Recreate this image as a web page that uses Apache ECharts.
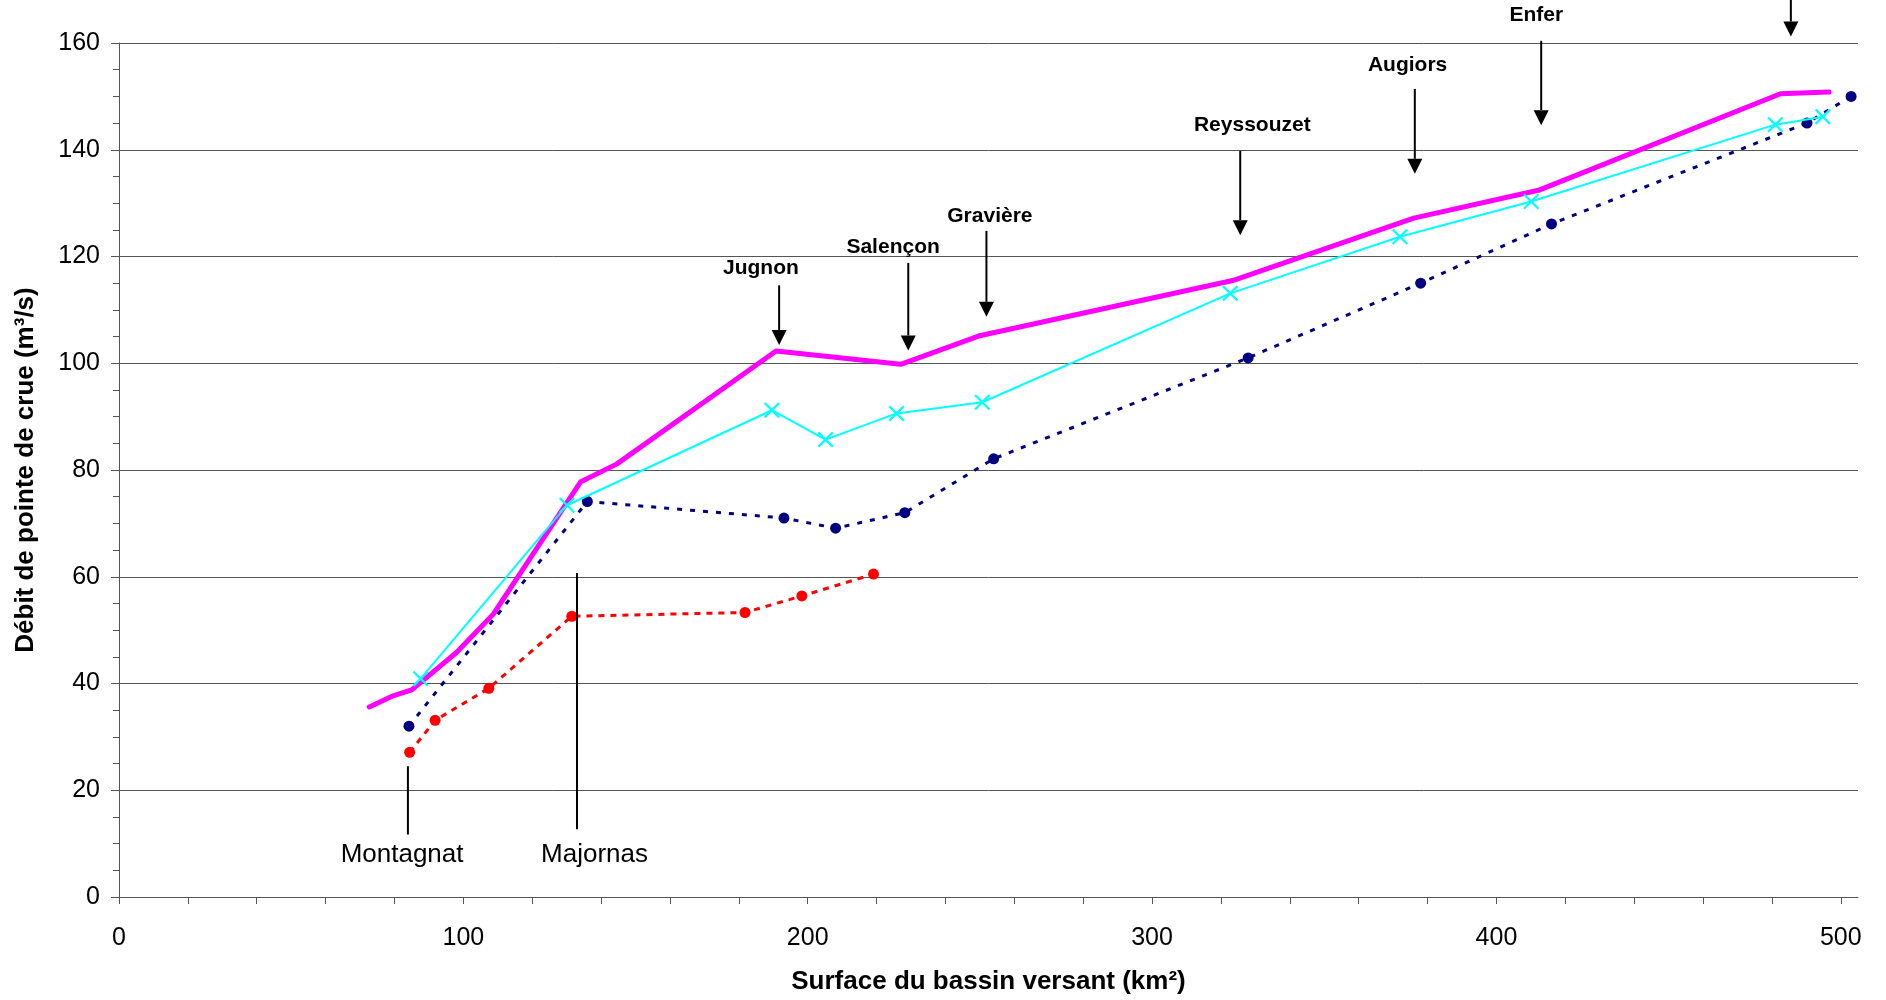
<!DOCTYPE html>
<html>
<head>
<meta charset="utf-8">
<title>Débit de pointe de crue</title>
<script src="https://cdn.jsdelivr.net/npm/echarts@6/dist/echarts.min.js"></script>
<style>
  html, body { margin: 0; padding: 0; background: #fff; }
  #chart { width: 1886px; height: 1000px; }
</style>
</head>
<body>
<div id="chart"></div>
<script>
// surface (km²) -> débit de pointe (m³/s)
const magentaX = [72.7, 79.6, 85.0, 98.0, 108.7, 134.1, 144.5, 190.8, 227.0, 249.6, 323.4, 376.0, 412.2, 482.5, 496.6];
const magentaY = [35.6, 37.7, 38.8, 45.8, 53.0, 77.8, 81.1, 102.3, 99.8, 105.1, 115.5, 127.2, 132.4, 150.5, 150.8];

const cyanX = [87.6, 130.1, 189.6, 205.2, 225.8, 250.7, 322.7, 372.0, 410.1, 481.0, 494.8];
const cyanY = [40.9, 73.4, 91.2, 85.7, 90.6, 92.7, 113.1, 123.7, 130.3, 144.7, 146.2];

const navyX = [84.2, 136.0, 193.1, 208.1, 228.2, 254.0, 327.9, 378.0, 416.0, 490.2, 503.0];
const navyY = [32.0, 74.1, 71.0, 69.1, 72.0, 82.1, 101.0, 115.0, 126.1, 145.0, 150.0];

const redX = [84.4, 91.8, 107.4, 131.5, 181.8, 198.3, 219.1];
const redY = [27.1, 33.1, 39.1, 52.6, 53.3, 56.4, 60.5];

// affluents (flèches)
const arrowNames = ['Jugnon', 'Salençon', 'Gravière', 'Reyssouzet', 'Augiors', 'Enfer', ''];
const arrowX = [191.7, 229.2, 251.9, 325.6, 376.3, 413.0, 485.5];
const arrowTop = [114.6, 118.8, 124.8, 139.8, 151.4, 160.4, 172];
const arrowTip = [103.4, 102.4, 108.7, 124.0, 135.5, 144.6, 161.2];
const arrowLabelX = [186.4, 224.8, 252.9, 329.1, 374.2, 411.6, 485.5];
const arrowLabelY = [117.9, 121.7, 127.5, 144.6, 155.9, 165.2, 175];

// repères bas
const markNames = ['Montagnat', 'Majornas'];
const markX = [83.9, 133.0];
const markTop = [24.5, 60.7];
const markBottom = [11.7, 12.7];
const markLabelX = [82.2, 138.1];
const markLabelY = [7.9, 7.9];

const xTicks = [];
for (let v = 0; v <= 500; v += 20) xTicks.push(v);
const xLabels = [0, 100, 200, 300, 400, 500];

const font = '"Liberation Sans", Arial, sans-serif';
const axisColor = '#555';

function pairs(xs, ys) {
  return xs.map((x, i) => [x, ys[i]]);
}

function rows(xs, tops, ends, lxs, lys) {
  return xs.map((x, i) => [x, tops[i], ends[i], lxs[i], lys[i]]);
}

function calloutRenderer(names, withArrow, bold) {
  return function (params, api) {
    const x = api.value(0);
    const top = api.coord([x, api.value(1)]);
    const end = api.coord([x, api.value(2)]);
    const lab = api.coord([api.value(3), api.value(4)]);
    const head = withArrow ? 15 : 0;
    const children = [{
      type: 'line',
      shape: { x1: top[0], y1: top[1], x2: end[0], y2: end[1] - head },
      style: { stroke: '#000', lineWidth: 2 }
    }];
    if (withArrow) {
      children.push({
        type: 'polygon',
        shape: { points: [[end[0] - 7.5, end[1] - head], [end[0] + 7.5, end[1] - head], [end[0], end[1]]] },
        style: { fill: '#000' }
      });
    }
    const name = names[params.dataIndex];
    if (name) {
      children.push({
        type: 'text',
        x: lab[0],
        y: lab[1],
        style: {
          text: name,
          fill: '#000',
          fontSize: bold ? 21 : 26,
          fontWeight: bold ? 'bold' : 'normal',
          fontFamily: font,
          align: 'center',
          verticalAlign: 'middle'
        }
      });
    }
    return { type: 'group', children: children };
  };
}

const crossPath = 'path://M0,1L1,0L5,4L9,0L10,1L6,5L10,9L9,10L5,6L1,10L0,9L4,5Z';

const chart = echarts.init(document.getElementById('chart'));
chart.setOption({
  animation: false,
  backgroundColor: '#fff',
  grid: { left: 119, right: 28, top: 43, bottom: 103 },
  xAxis: {
    type: 'value',
    min: 0,
    max: 505,
    interval: 100,
    name: 'Surface du bassin versant (km²)',
    nameLocation: 'middle',
    nameGap: 72,
    nameTextStyle: { fontFamily: font, fontSize: 26, fontWeight: 'bold', color: '#000' },
    axisLine: { lineStyle: { color: axisColor, width: 1 } },
    axisTick: { show: true, length: 7, customValues: xTicks, lineStyle: { color: axisColor } },
    axisLabel: { customValues: xLabels, margin: 29, fontFamily: font, fontSize: 25, color: '#000' },
    splitLine: { show: false }
  },
  yAxis: {
    type: 'value',
    min: 0,
    max: 160,
    interval: 20,
    name: 'Débit de pointe de crue (m³/s)',
    nameLocation: 'middle',
    nameGap: 80,
    nameTextStyle: { fontFamily: font, fontSize: 26, fontWeight: 'bold', color: '#000' },
    axisLine: { show: true, lineStyle: { color: axisColor, width: 1 } },
    axisTick: { show: true, length: 8, lineStyle: { color: axisColor } },
    minorTick: { show: true, splitNumber: 4, length: 6, lineStyle: { color: axisColor } },
    axisLabel: { margin: 19, fontFamily: font, fontSize: 25, color: '#000' },
    splitLine: { show: true, lineStyle: { color: axisColor, width: 1 } },
    minorSplitLine: { show: false }
  },
  series: [
    {
      name: 'magenta',
      type: 'line',
      data: pairs(magentaX, magentaY),
      showSymbol: false,
      symbol: 'none',
      lineStyle: { color: '#ff00ff', width: 5, cap: 'round', join: 'round' },
      itemStyle: { color: '#ff00ff' },
      z: 2
    },
    {
      name: 'rouge',
      type: 'line',
      data: pairs(redX, redY),
      symbol: 'circle',
      symbolSize: 11,
      lineStyle: { color: '#ff0000', width: 3, type: [6, 6] },
      itemStyle: { color: '#ff0000', borderWidth: 0 },
      z: 3
    },
    {
      name: 'bleu',
      type: 'line',
      data: pairs(navyX, navyY),
      symbol: 'circle',
      symbolSize: 11,
      lineStyle: { color: '#000080', width: 3, type: [5, 8] },
      itemStyle: { color: '#000080', borderWidth: 0 },
      z: 4
    },
    {
      name: 'cyan',
      type: 'line',
      data: pairs(cyanX, cyanY),
      symbol: crossPath,
      symbolSize: 16,
      lineStyle: { color: '#00ffff', width: 2 },
      itemStyle: { color: '#00ffff', borderWidth: 0 },
      z: 5
    },
    {
      name: 'affluents',
      type: 'custom',
      coordinateSystem: 'cartesian2d',
      clip: false,
      silent: true,
      data: rows(arrowX, arrowTop, arrowTip, arrowLabelX, arrowLabelY),
      renderItem: calloutRenderer(arrowNames, true, true),
      z: 6
    },
    {
      name: 'repères',
      type: 'custom',
      coordinateSystem: 'cartesian2d',
      clip: false,
      silent: true,
      data: rows(markX, markTop, markBottom, markLabelX, markLabelY),
      renderItem: calloutRenderer(markNames, false, false),
      z: 6
    }
  ]
});
</script>
</body>
</html>
